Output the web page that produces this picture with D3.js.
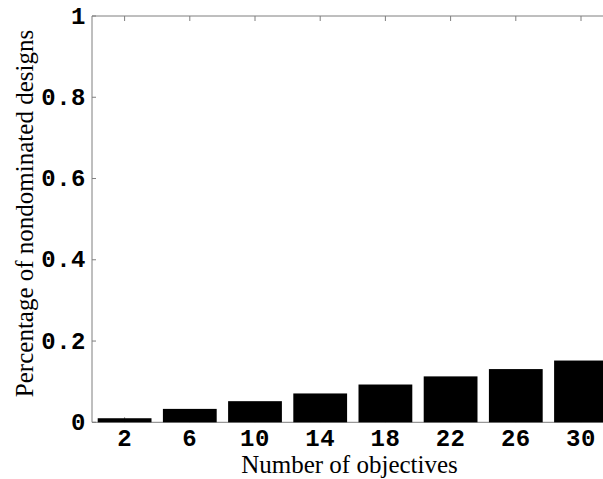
<!DOCTYPE html>
<html>
<head>
<meta charset="utf-8">
<script src="https://d3js.org/d3.v7.min.js"></script>
<style>
  html, body { margin: 0; padding: 0; background: #fff; }
  svg { display: block; }
  .tick-label { font-family: "Liberation Mono", "Courier New", monospace; font-weight: bold; font-size: 24px; letter-spacing: 0.5px; fill: #000; }
  .axis-title { font-family: "Liberation Serif", "Times New Roman", serif; font-size: 25px; fill: #000; }
</style>
</head>
<body>
<div id="chart"></div>
<script>
// Number of objectives (categories) and share of nondominated designs
const objectives = [2, 6, 10, 14, 18, 22, 26, 30];
const nondominated = [0.010, 0.033, 0.052, 0.071, 0.093, 0.113, 0.131, 0.152];
const yTicks = [0, 0.2, 0.4, 0.6, 0.8, 1];
const yTickLabels = ['0', '0.2', '0.4', '0.6', '0.8', '1'];

const width = 603, height = 479;
const margin = { top: 16, left: 92, bottom: 422.3 };
const xMax = 32, barWidth = 3.3;

const svg = d3.select('#chart')
    .append('svg')
    .attr('width', width)
    .attr('height', height);

const x = d3.scaleLinear().domain([0, xMax]).range([margin.left, margin.left + xMax * 16.3]);
const y = d3.scaleLinear().domain([0, 1]).range([margin.bottom, margin.top]);

const axisColor = '#7f7f7f';
const right = x(xMax);

// axis frame (left, bottom, top)
svg.append('line')
    .attr('x1', x(0)).attr('x2', x(0))
    .attr('y1', y(0)).attr('y2', y(1))
    .attr('stroke', axisColor);
svg.append('line')
    .attr('x1', x(0)).attr('x2', right)
    .attr('y1', y(0)).attr('y2', y(0))
    .attr('stroke', axisColor);
svg.append('line')
    .attr('x1', x(0)).attr('x2', right)
    .attr('y1', y(1)).attr('y2', y(1))
    .attr('stroke', axisColor);

// inward ticks on y axis
svg.selectAll('line.ytick')
    .data(yTicks)
    .enter()
    .append('line')
    .attr('class', 'ytick')
    .attr('x1', x(0)).attr('x2', x(0) + 4)
    .attr('y1', d => y(d)).attr('y2', d => y(d))
    .attr('stroke', axisColor);

// inward ticks on bottom and top
svg.selectAll('line.xtick')
    .data(objectives)
    .enter()
    .append('line')
    .attr('class', 'xtick')
    .attr('x1', d => x(d)).attr('x2', d => x(d))
    .attr('y1', y(0)).attr('y2', y(0) - 5)
    .attr('stroke', axisColor);
svg.selectAll('line.xtoptick')
    .data(objectives)
    .enter()
    .append('line')
    .attr('class', 'xtoptick')
    .attr('x1', d => x(d)).attr('x2', d => x(d))
    .attr('y1', y(1)).attr('y2', y(1) + 5)
    .attr('stroke', axisColor);

// bars
svg.selectAll('rect.bar')
    .data(objectives)
    .enter()
    .append('rect')
    .attr('class', 'bar')
    .attr('x', d => x(d - barWidth / 2))
    .attr('width', x(barWidth) - x(0))
    .attr('y', (d, i) => y(nondominated[i]))
    .attr('height', (d, i) => y(0) - y(nondominated[i]))
    .attr('fill', '#000');

// tick labels
svg.selectAll('text.ylabel')
    .data(yTicks)
    .enter()
    .append('text')
    .attr('class', 'tick-label')
    .attr('x', x(0) - 6)
    .attr('y', d => y(d))
    .attr('dy', '0.32em')
    .attr('text-anchor', 'end')
    .text((d, i) => yTickLabels[i]);

svg.selectAll('text.xlabel')
    .data(objectives)
    .enter()
    .append('text')
    .attr('class', 'tick-label')
    .attr('x', d => x(d))
    .attr('y', y(0) + 24)
    .attr('text-anchor', 'middle')
    .text(d => d);

// axis titles
svg.append('text')
    .attr('class', 'axis-title')
    .attr('x', 349.5)
    .attr('y', 473)
    .attr('text-anchor', 'middle')
    .text('Number of objectives');

svg.append('text')
    .attr('class', 'axis-title')
    .attr('transform', 'translate(33, 213.5) rotate(-90)')
    .attr('text-anchor', 'middle')
    .text('Percentage of nondominated designs');
</script>
</body>
</html>
